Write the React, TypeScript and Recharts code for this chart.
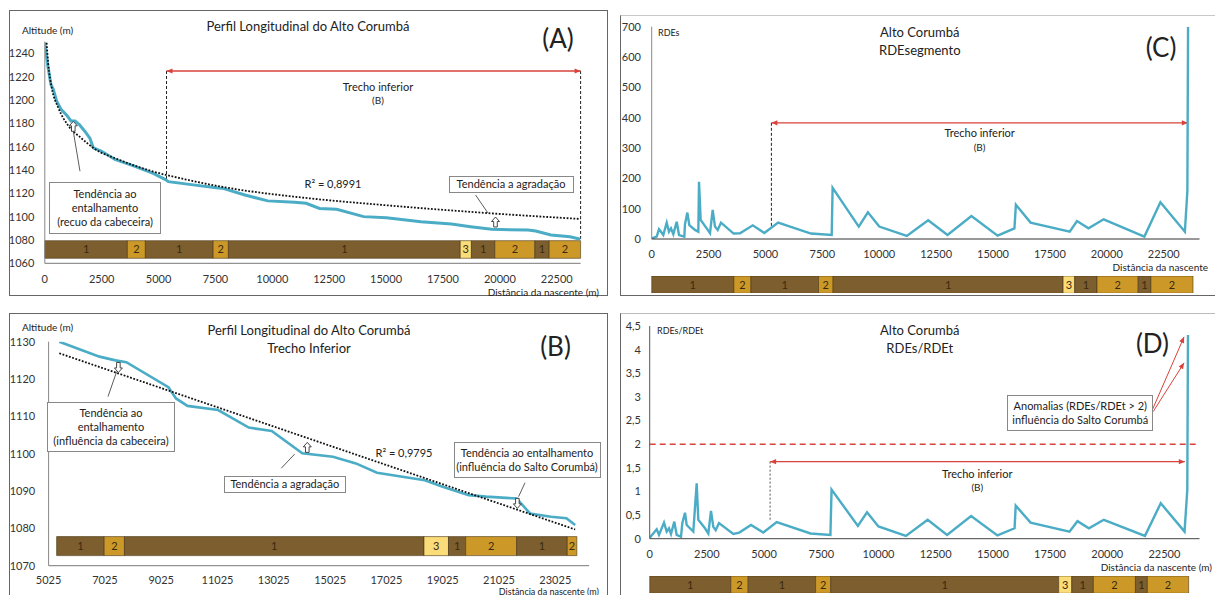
import React from 'react';
import { LineChart, Line, XAxis, YAxis, ReferenceLine, ReferenceArea, ReferenceDot } from 'recharts';

const FONT = "Lato, 'Open Sans', sans-serif";
const BLUE = '#4BACC6';
const RED = '#D9423A';
const SEG_FILL: Record<string, string> = { '1': '#7D5E2E', '2': '#CC9929', '3': '#FADC78' };

// ---------- Panel A : longitudinal profile ----------
const distA = [0, 127, 272, 375, 522, 712, 962, 1151, 1327, 1516, 1767, 1986, 2131, 2500, 3085, 3964, 4768, 5282, 5432, 6609, 7449, 7870, 8795, 9804, 10982, 11487, 12076, 12832, 14010, 15016, 16530, 17875, 18716, 19643, 21240, 21577, 22250, 23088, 23545];
const altA = [1249, 1230, 1213, 1209, 1199, 1192, 1187, 1182, 1182, 1179, 1173, 1167, 1159, 1156, 1149, 1143, 1137, 1132, 1130, 1127, 1125, 1124, 1118.5, 1113.5, 1112.3, 1111.4, 1107, 1106.3, 1100, 1099, 1095.7, 1093.7, 1091.4, 1089.1, 1088.5, 1087.7, 1084.3, 1082.8, 1080.6];
const trendDistA = [80, 150, 300, 600, 1030, 1620, 2200, 3230, 4700, 6160, 7950, 11480, 14850, 19480, 23550];
const trendAltA = [1249, 1231, 1211, 1193, 1178, 1167, 1158, 1149, 1139, 1132, 1125, 1116, 1110, 1103, 1098];
const ticksXA = [0, 2500, 5000, 7500, 10000, 12500, 15000, 17500, 20000, 22500];
const ticksYA = [1060, 1080, 1100, 1120, 1140, 1160, 1180, 1200, 1220, 1240];
const stripBoundsA = [0, 3630, 4420, 7400, 8070, 18260, 18750, 19780, 21540, 22170, 23550];
const stripCodes = ['1', '2', '1', '2', '1', '3', '1', '2', '1', '2'];

// ---------- Panel B : lower reach ----------
const distB = [5405, 6833, 7400, 7785, 9280, 9551, 9959, 11046, 12136, 12950, 14036, 15127, 15940, 16690, 18388, 18999, 19951, 20561, 21650, 22125, 22871, 23418, 23730];
const altB = [1130, 1126, 1125, 1124.5, 1117.8, 1114.8, 1112.8, 1111.7, 1107, 1106.1, 1100.1, 1099.2, 1097.4, 1094.9, 1092.9, 1091.2, 1088.9, 1088.5, 1088, 1084, 1083.1, 1082.7, 1080.9];
const trendDistB = [5405, 23730];
const trendAltB = [1126.9, 1079.7];
const ticksXB = [5025, 7025, 9025, 11025, 13025, 15025, 17025, 19025, 21025, 23025];
const ticksYB = [1070, 1080, 1090, 1100, 1110, 1120, 1130];
const stripBoundsB = [5310, 7000, 7720, 18360, 19230, 19840, 21650, 23450, 23790];
const stripCodesB = ['1', '2', '1', '3', '1', '2', '1', '2'];

// ---------- Panel C : RDE segment ----------
const distC = [0, 220, 321, 409, 510, 659, 760, 848, 950, 1099, 1200, 1434, 1463, 1566, 1653, 1903, 2049, 2079, 2152, 2416, 2562, 2680, 2782, 2900, 3045, 3600, 3880, 4440, 4950, 5555, 7000, 7910, 7950, 9100, 9500, 10000, 11210, 12150, 13000, 14050, 15200, 15940, 16005, 16650, 18370, 18690, 19195, 19860, 21650, 22355, 23430, 23540, 23570];
const rdeC = [2, 8, 32, 24, 13, 54, 24, 35, 16, 57, 13, 8, 49, 87, 46, 30, 24, 189, 63, 35, 19, 96, 41, 30, 54, 18, 19, 45, 20, 54, 18, 13, 169, 41, 88, 41, 10, 62, 13, 76, 11, 35, 113, 54, 24, 59, 35, 65, 8, 121, 24, 158, 700];
const ticksXC = [0, 2500, 5000, 7500, 10000, 12500, 15000, 17500, 20000, 22500];
const ticksYC = [0, 100, 200, 300, 400, 500, 600, 700];
const stripBoundsC = [0, 3610, 4360, 7330, 7970, 18080, 18590, 19570, 21380, 21940, 23790];

// ---------- Panel D : RDEs / RDEt ----------
const distD = [0, 306, 407, 625, 743, 844, 931, 1076, 1180, 1368, 1425, 1543, 1617, 1906, 2054, 2125, 2417, 2562, 2680, 2780, 2885, 3029, 3655, 3917, 4428, 4966, 5552, 7030, 7900, 7950, 9100, 9500, 10000, 11200, 12150, 13000, 14050, 15200, 15950, 16000, 16650, 18350, 18700, 19200, 19850, 21650, 22340, 23380, 23500, 23530];
const ratioD = [0.02, 0.2, 0.08, 0.34, 0.15, 0.22, 0.1, 0.36, 0.08, 0.04, 0.33, 0.55, 0.29, 0.15, 1.17, 0.4, 0.22, 0.11, 0.59, 0.25, 0.18, 0.33, 0.1, 0.13, 0.29, 0.13, 0.35, 0.11, 0.08, 1.04, 0.27, 0.56, 0.26, 0.06, 0.4, 0.08, 0.48, 0.07, 0.22, 0.7, 0.34, 0.15, 0.37, 0.22, 0.4, 0.06, 0.75, 0.15, 1.03, 4.31];
const ticksXD = [0, 2500, 5000, 7500, 10000, 12500, 15000, 17500, 20000, 22500];
const ticksYD = [0, 0.5, 1, 1.5, 2, 2.5, 3, 3.5, 4, 4.5];
const stripBoundsD = [0, 3545, 4302, 7252, 7912, 17879, 18452, 19396, 21236, 21757, 23562];

const pts = (xs: number[], ys: number[]) => xs.map((x, i) => ({ x, y: ys[i] }));

const tickStyle = { fontSize: 11, fill: '#333', fontFamily: FONT };

const arrowShape = (both: boolean, color: string, width = 1.2) => (props: any) => {
  const { x1, y1, x2, y2 } = props;
  const a = Math.atan2(y2 - y1, x2 - x1);
  const L = 6;
  const W = 2.6;
  const head = (x: number, y: number, ang: number) => {
    const bx = x - L * Math.cos(ang);
    const by = y - L * Math.sin(ang);
    const px = -Math.sin(ang) * W;
    const py = Math.cos(ang) * W;
    return `${x},${y} ${bx + px},${by + py} ${bx - px},${by - py}`;
  };
  return (
    <g>
      <line x1={x1} y1={y1} x2={x2} y2={y2} stroke={color} strokeWidth={width} />
      <polygon points={head(x2, y2, a)} fill={color} />
      {both && <polygon points={head(x1, y1, a + Math.PI)} fill={color} />}
    </g>
  );
};

const hollowArrow = (dir: 'up' | 'down') => (props: any) => {
  const { cx, cy } = props;
  const s = dir === 'up' ? 1 : -1;
  const shape = [[0, -5], [4, -0.5], [1.8, -0.5], [1.8, 5], [-1.8, 5], [-1.8, -0.5], [-4, -0.5]];
  const p = shape.map(([x, y]) => `${cx + x},${cy + s * y}`).join(' ');
  return <polygon points={p} fill="#fff" stroke="#333" strokeWidth={0.9} />;
};

const stripAreas = (bounds: number[], codes: string[], y1: number, y2: number) =>
  codes.map((c, i) => (
    <ReferenceArea
      key={'strip' + i}
      x1={bounds[i]}
      x2={bounds[i + 1]}
      y1={y1}
      y2={y2}
      fill={SEG_FILL[c]}
      fillOpacity={1}
      stroke="#4a3515"
      strokeWidth={0.6}
      ifOverflow="visible"
      label={{ value: c, position: 'center', fill: '#3a2a10', fontSize: 11, fontFamily: FONT }}
    />
  ));

const pointer = (a: { x: number; y: number }, b: { x: number; y: number }, key: string) => (
  <ReferenceLine key={key} segment={[a, b]} stroke="#333" strokeWidth={0.8} ifOverflow="visible" />
);

const Txt = ({ x, y, size = 11, anchor = 'middle', children, color = '#222' }: any) => (
  <div
    style={{
      position: 'absolute',
      left: x,
      top: y,
      transform: anchor === 'middle' ? 'translate(-50%,-50%)' : anchor === 'end' ? 'translate(-100%,-50%)' : 'translate(0,-50%)',
      fontSize: size,
      whiteSpace: 'nowrap',
      lineHeight: 1,
      color,
    }}
  >
    {children}
  </div>
);

const Box = ({ left, top, width, height, lines }: any) => (
  <div
    style={{
      position: 'absolute',
      left,
      top,
      width,
      height,
      boxSizing: 'border-box',
      border: '1px solid #888',
      background: '#fff',
      display: 'flex',
      flexDirection: 'column',
      justifyContent: 'center',
      alignItems: 'center',
      fontSize: 11,
      lineHeight: '14px',
      color: '#222',
      whiteSpace: 'nowrap',
    }}
  >
    {lines.map((l: string, i: number) => (
      <div key={i}>{l}</div>
    ))}
  </div>
);

const frame = (left: number, top: number, width: number, height: number, extra: any = {}) => ({
  position: 'absolute' as const,
  left,
  top,
  width,
  height,
  boxSizing: 'border-box' as const,
  border: '1px solid #666',
  ...extra,
});

const Pos = ({ left, top, children }: any) => (
  <div style={{ position: 'absolute', left, top }}>{children}</div>
);

function ChartA() {
  return (
    <LineChart width={608} height={300} margin={{ top: 41.6, right: 27.4, bottom: 6.7, left: 0 }}>
      <XAxis type="number" dataKey="x" domain={[0, 23550]} allowDataOverflow ticks={ticksXA} interval={0} tick={tickStyle} tickLine={false} tickSize={0} tickMargin={11.4} height={30} axisLine={{ stroke: '#777' }} />
      <YAxis type="number" domain={[1060, 1250]} allowDataOverflow ticks={ticksYA} interval={0} tick={tickStyle} tickLine={false} tickSize={0} tickMargin={10.4} width={44.8} axisLine={{ stroke: '#888' }} />
      {stripAreas(stripBoundsA, stripCodes, 1064.3, 1079.4)}
      <ReferenceLine segment={[{ x: 5350, y: 1224.8 }, { x: 5350, y: 1130.5 }]} stroke="#222" strokeDasharray="3 2" strokeWidth={1} ifOverflow="visible" />
      <ReferenceLine segment={[{ x: 23550, y: 1224.8 }, { x: 23550, y: 1080.5 }]} stroke="#222" strokeDasharray="3 2" strokeWidth={1} ifOverflow="visible" />
      <ReferenceLine segment={[{ x: 5350, y: 1224.8 }, { x: 23550, y: 1224.8 }]} shape={arrowShape(true, RED, 1.3)} ifOverflow="visible" />
      <Line data={pts(distA, altA)} dataKey="y" type="linear" stroke={BLUE} strokeWidth={3} dot={false} activeDot={false} isAnimationActive={false} />
      <Line data={pts(trendDistA, trendAltA)} dataKey="y" type="monotone" stroke="#111" strokeWidth={1.8} strokeDasharray="1.8 1.6" dot={false} activeDot={false} isAnimationActive={false} />
      {pointer({ x: 1547, y: 1138.9 }, { x: 1253, y: 1173 }, 'pa1')}
      <ReferenceDot x={1253} y={1177.4} shape={hollowArrow('up')} ifOverflow="visible" />
      {pointer({ x: 18935, y: 1118.5 }, { x: 19477, y: 1103.1 }, 'pa2')}
      <ReferenceDot x={19809} y={1095.4} shape={hollowArrow('up')} ifOverflow="visible" />
    </LineChart>
  );
}

function ChartB() {
  return (
    <LineChart width={608} height={295} margin={{ top: 41.7, right: 18.9, bottom: 4.3, left: 0 }}>
      <XAxis type="number" dataKey="x" domain={[5025, 24225]} allowDataOverflow ticks={ticksXB} interval={0} tick={tickStyle} tickLine={false} tickSize={0} tickMargin={10} height={25} axisLine={{ stroke: '#777' }} />
      <YAxis type="number" domain={[1070, 1130]} allowDataOverflow ticks={ticksYB} interval={0} tick={tickStyle} tickLine={false} tickSize={0} tickMargin={13.4} width={48.6} axisLine={{ stroke: '#888' }} />
      {stripAreas(stripBoundsB, stripCodesB, 1072.7, 1077.8)}
      <Line data={pts(distB, altB)} dataKey="y" type="linear" stroke={BLUE} strokeWidth={2.6} dot={false} activeDot={false} isAnimationActive={false} />
      <Line data={pts(trendDistB, trendAltB)} dataKey="y" type="linear" stroke="#111" strokeWidth={1.8} strokeDasharray="1.8 1.6" dot={false} activeDot={false} isAnimationActive={false} />
      {pointer({ x: 7135, y: 1115.3 }, { x: 7444, y: 1122 }, 'pb1')}
      <ReferenceDot x={7504} y={1123.1} shape={hollowArrow('down')} ifOverflow="visible" />
      {pointer({ x: 13290, y: 1096.1 }, { x: 13766, y: 1099.9 }, 'pb2')}
      <ReferenceDot x={14214} y={1101.7} shape={hollowArrow('up')} ifOverflow="visible" />
      {pointer({ x: 21947, y: 1092.2 }, { x: 21720, y: 1088.5 }, 'pb3')}
      <ReferenceDot x={21677} y={1086.7} shape={hollowArrow('down')} ifOverflow="visible" />
    </LineChart>
  );
}

function ChartC() {
  return (
    <LineChart width={605} height={300} margin={{ top: 26.7, right: 15.5, bottom: 36, left: 0 }}>
      <XAxis type="number" dataKey="x" domain={[0, 24073]} allowDataOverflow ticks={ticksXC} interval={0} tick={tickStyle} tickLine={false} tickSize={0} tickMargin={11} height={25} axisLine={{ stroke: '#333' }} />
      <YAxis type="number" domain={[0, 700]} allowDataOverflow ticks={ticksYC} interval={0} tick={tickStyle} tickLine={false} tickSize={0} tickMargin={10.8} width={41.7} axisLine={{ stroke: '#888' }} />
      <ReferenceLine segment={[{ x: 5260, y: 383 }, { x: 5260, y: 42 }]} stroke="#222" strokeDasharray="3 2" strokeWidth={1} ifOverflow="visible" />
      <ReferenceLine segment={[{ x: 5260, y: 383 }, { x: 23560, y: 383 }]} shape={arrowShape(true, RED, 1.3)} ifOverflow="visible" />
      <Line data={pts(distC, rdeC)} dataKey="y" type="linear" stroke={BLUE} strokeWidth={2.4} dot={false} activeDot={false} isAnimationActive={false} />
    </LineChart>
  );
}

function StripChart({ bounds, domainMax, left, right }: any) {
  return (
    <LineChart width={605} height={17.3} margin={{ top: 0, right, bottom: 0, left }}>
      <XAxis type="number" dataKey="x" domain={[0, domainMax]} allowDataOverflow hide />
      <YAxis type="number" domain={[0, 1]} allowDataOverflow hide />
      {stripAreas(bounds, stripCodes, 0, 1)}
    </LineChart>
  );
}

function ChartD() {
  return (
    <LineChart width={605} height={295} margin={{ top: 26, right: 15.5, bottom: 31.3, left: 0 }}>
      <XAxis type="number" dataKey="x" domain={[0, 24034]} allowDataOverflow ticks={ticksXD} interval={0} tick={tickStyle} tickLine={false} tickSize={0} tickMargin={11.3} height={25} axisLine={{ stroke: '#444' }} />
      <YAxis type="number" domain={[0, 4.5]} allowDataOverflow ticks={ticksYD} interval={0} tick={tickStyle} tickLine={false} tickSize={0} tickMargin={8.8} width={39.7} axisLine={{ stroke: '#555' }} tickFormatter={(v: number) => String(v).replace('.', ',')} />
      <ReferenceLine y={2} stroke={RED} strokeDasharray="6 4" strokeWidth={1.5} />
      <ReferenceLine segment={[{ x: 5263, y: 1.63 }, { x: 5263, y: 0.36 }]} stroke="#555" strokeDasharray="2 2" strokeWidth={1} ifOverflow="visible" />
      <ReferenceLine segment={[{ x: 5263, y: 1.63 }, { x: 23391, y: 1.63 }]} shape={arrowShape(true, RED, 1.3)} ifOverflow="visible" />
      <ReferenceLine segment={[{ x: 21967, y: 2.72 }, { x: 23360, y: 4.27 }]} shape={arrowShape(false, RED, 1)} ifOverflow="visible" />
      <ReferenceLine segment={[{ x: 22010, y: 2.69 }, { x: 23360, y: 3.72 }]} shape={arrowShape(false, RED, 1)} ifOverflow="visible" />
      <Line data={pts(distD, ratioD)} dataKey="y" type="linear" stroke={BLUE} strokeWidth={2.4} dot={false} activeDot={false} isAnimationActive={false} />
    </LineChart>
  );
}

export default function App() {
  return (
    <div style={{ position: 'absolute', left: 0, top: 0, width: 1215, height: 595, background: '#fff', fontFamily: FONT, color: '#222', overflow: 'hidden' }}>
      {/* panel frames */}
      <div style={frame(9, 10, 599, 286)} />
      <div style={frame(9, 313, 599, 300)} />
      <div style={frame(620, 15, 620, 281, { borderTopColor: '#c8c8c8' })} />
      <div style={frame(620, 313, 620, 300, { borderTopColor: '#bbb' })} />

      <Pos left={0} top={0}><ChartA /></Pos>
      <Pos left={0} top={300}><ChartB /></Pos>
      <Pos left={610} top={0}><ChartC /></Pos>
      <Pos left={610} top={276}><StripChart bounds={stripBoundsC} domainMax={24073} left={41.7} right={15.5} /></Pos>
      <Pos left={610} top={300}><ChartD /></Pos>
      <Pos left={610} top={576}><StripChart bounds={stripBoundsD} domainMax={24034} left={39.7} right={15.5} /></Pos>

      {/* Panel A texts */}
      <Txt x={22} y={30} size={10} anchor="start">Altitude (m)</Txt>
      <Txt x={308} y={26} size={13}>Perfil Longitudinal do Alto Corumbá</Txt>
      <Txt x={558} y={38} size={26}>(A)</Txt>
      <Txt x={378} y={86} size={11}>Trecho inferior</Txt>
      <Txt x={378} y={100} size={10}>(B)</Txt>
      <Txt x={333} y={183} size={11}>R² = 0,8991</Txt>
      <Txt x={599} y={292} size={10} anchor="end">Distância da nascente (m)</Txt>
      <Box left={49} top={181.7} width={112} height={52.6} lines={['Tendência ao', 'entalhamento', '(recuo da cabeceira)']} />
      <Box left={448.5} top={175.7} width={125} height={17} lines={['Tendência a agradação']} />

      {/* Panel B texts */}
      <Txt x={22} y={327} size={10} anchor="start">Altitude (m)</Txt>
      <Txt x={309} y={330} size={13}>Perfil Longitudinal do Alto Corumbá</Txt>
      <Txt x={309} y={348} size={13}>Trecho Inferior</Txt>
      <Txt x={555.5} y={346} size={26}>(B)</Txt>
      <Txt x={404} y={451.7} size={11}>R² = 0,9795</Txt>
      <Txt x={599} y={590.5} size={9} anchor="end">Distância da nascente (m)</Txt>
      <Box left={46.7} top={401.7} width={128.6} height={50} lines={['Tendência ao', 'entalhamento', '(influência da cabeceira)']} />
      <Box left={224} top={476} width={121.6} height={16.7} lines={['Tendência a agradação']} />
      <Box left={453.5} top={441.7} width={147} height={36.6} lines={['Tendência ao entalhamento', '(influência do Salto Corumbá)']} />

      {/* Panel C texts */}
      <Txt x={658} y={32.3} size={9} anchor="start">RDEs</Txt>
      <Txt x={919.8} y={32.3} size={13}>Alto Corumbá</Txt>
      <Txt x={919.8} y={50} size={13}>RDEsegmento</Txt>
      <Txt x={1161} y={47} size={26}>(C)</Txt>
      <Txt x={979.6} y={132.3} size={11}>Trecho inferior</Txt>
      <Txt x={979.6} y={146.7} size={10}>(B)</Txt>
      <Txt x={1208} y={266.7} size={10} anchor="end">Distância da nascente</Txt>

      {/* Panel D texts */}
      <Txt x={657} y={330} size={9} anchor="start">RDEs/RDEt</Txt>
      <Txt x={919.8} y={330} size={13}>Alto Corumbá</Txt>
      <Txt x={919.8} y={347.7} size={13}>RDEs/RDEt</Txt>
      <Txt x={1152.5} y={343} size={26}>(D)</Txt>
      <Txt x={977.3} y={473.3} size={11}>Trecho inferior</Txt>
      <Txt x={977.3} y={487.3} size={10}>(B)</Txt>
      <Txt x={1212} y={566.7} size={10} anchor="end">Distância da nascente (m)</Txt>
      <Box left={1007.4} top={395} width={145.8} height={36} lines={['Anomalias (RDEs/RDEt > 2)', 'influência do Salto Corumbá']} />
    </div>
  );
}
